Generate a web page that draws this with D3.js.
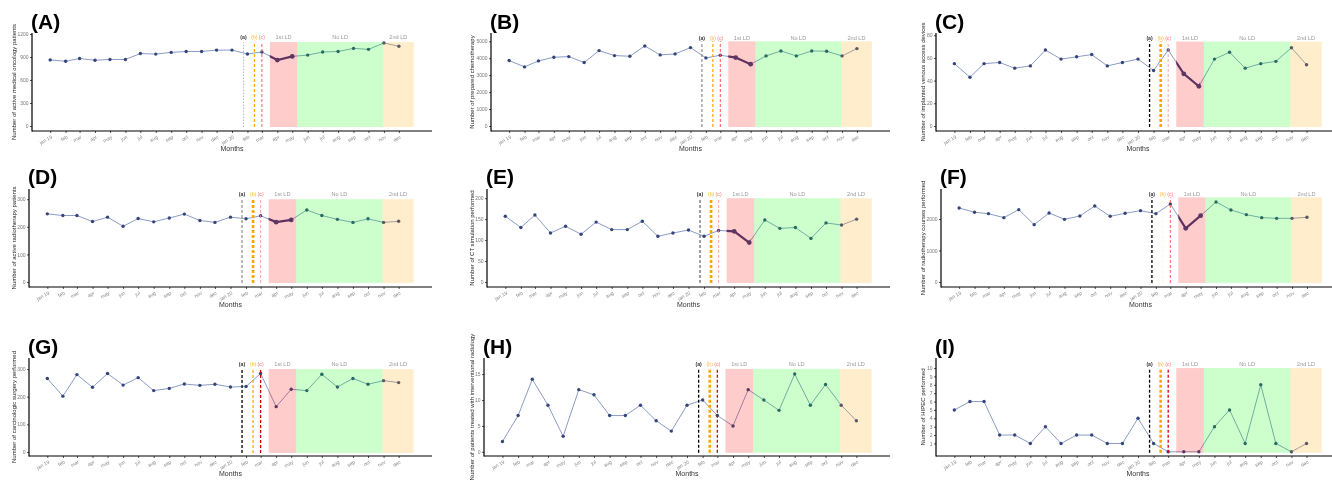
<!DOCTYPE html>
<html>
<head>
<meta charset="utf-8">
<script src="https://cdn.jsdelivr.net/npm/d3@7"></script>
<style>
body{margin:0;background:#fff}
svg{display:block;will-change:transform}
text{font-family:"Liberation Sans",Arial,sans-serif}
</style>
</head>
<body>
<svg id="chart" width="1332" height="485"></svg>
<script>
// months jan 2019 -> dec 2020
var months = ["jan 19","feb","mar","apr","may","jun","jul","aug","sep","oct","nov","dec",
              "jan 20","feb","mar","apr","may","jun","jul","aug","sep","oct","nov","dec"];

// series, one value per month
var medOnco   = [862,845,880,858,868,868,945,938,960,972,972,990,990,940,965,860,908,925,965,972,1012,1000,1082,1040];
var chemo     = [3863,3490,3843,4059,4098,3745,4451,4157,4118,4725,4196,4255,4627,4020,4176,4039,3647,4137,4431,4137,4431,4412,4137,4569];
var venous    = [55,43,55,56,51,53,67,59,61,63,53,56,59,49,67,46,35,59,65,51,55,57,69,54];
var radioPat  = [247,241,241,219,235,202,230,218,232,246,223,216,235,229,240,217,225,261,241,227,216,229,216,220];
var ctSim     = [157,130,160,117,133,114,143,125,125,145,109,117,124,109,123,121,94,148,128,130,104,141,136,150];
var radioCour = [2349,2212,2169,2042,2296,1820,2190,1989,2095,2413,2085,2180,2265,2169,2476,1704,2106,2540,2286,2138,2042,2021,2021,2053];
var surgery   = [266,202,280,234,284,242,269,222,230,246,241,245,235,237,284,164,227,222,281,235,266,245,258,251];
var interRad  = [2,7,14,9,3,12,11,7,7,9,6,4,9,10,7,5,12,10,8,15,9,13,9,6];
var hipec     = [5,6,6,2,2,1,3,1,2,2,1,1,4,1,0,0,0,3,5,1,8,1,0,1];

// y tick values
var ticksA = [0,300,600,900,1200];
var ticksB = [0,1000,2000,3000,4000,5000];
var ticksC = [0,20,40,60,80];
var ticksD = [0,100,200,300];
var ticksE = [0,50,100,150,200];
var ticksF = [0,1000,2000];
var ticksG = [0,100,200,300];
var ticksH = [0,5,10,15];
var ticksI = [1,2,3,4,5,6,7,8,9,10];

// events and lockdown periods
var eventLabels = ["(a)","(b)","(c)"];
var eventDates  = ["2020-01-24","2020-02-15","2020-03-01"];
var periodLabels = ["1st LD","No LD","2nd LD"];
var periodStarts = ["2020-03-17","2020-05-11","2020-10-30"];
var periodEnds   = ["2020-05-11","2020-10-30","2020-12-31"];

var parse = d3.timeParse("%Y-%m-%d");
var dates = months.map(function(m,i){ return new Date(2019, i, 1); });
var day = 864e5;
var xDomain = [new Date(+new Date(2019,0,1) - 36.5*day), new Date(+new Date(2020,11,31) + 36.5*day)];

var rowTop = [33,189,358], rowBot = [131,287,456], rowTitle = [29,184,354];
var colRight = [432,890,1340];
var colYLabel = [16,474,925];
var periodFill = ["red","lime","orange"];
var labelColor = ["#333","orange","#ff4d4d"];

// [color, width, dash] for (a),(b),(c)
var S = {
  grayDot:["#bbb",1,"1.5,1.5"], gray:["#777",1,"3,2"], black:["#000",1.3,"3,2"],
  or:["orange",1.2,"3,2"], orThick:["orange",2.6,"3,2"], orNone:["#ffe9c8",0.6,"3,2"],
  red:["#ff5a5a",1,"3,2"], pink:["#ff8a8a",0.8,"3,2"], dred:["#d40000",1.3,"3,2"]
};

var panels = [
  {t:"(A)", v:medOnco, ticks:ticksA, lo:-65, hi:1213, shade:1095, lab:1161, row:0, col:0, left:32, thick:true,
   ev:[S.grayDot,S.or,S.red], yl:"Number of active medical oncology patients"},
  {t:"(B)", v:chemo, ticks:ticksB, lo:-295, hi:5490, shade:5000, lab:5212, row:0, col:1, left:491, thick:true,
   ev:[S.gray,S.or,S.red], yl:"Number of prepared chemotherapy"},
  {t:"(C)", v:venous, ticks:ticksC, lo:-4.4, hi:82, shade:74.4, lab:77.6, row:0, col:2, left:936, thick:true,
   ev:[S.black,S.orThick,S.pink], yl:"Number of implanted venous access devices"},
  {t:"(D)", v:radioPat, ticks:ticksD, lo:-18, hi:337, shade:300, lab:319, row:1, col:0, left:29, thick:true,
   ev:[S.gray,S.orThick,S.pink], yl:"Number of active radiotherapy patients"},
  {t:"(E)", v:ctSim, ticks:ticksE, lo:-12, hi:222, shade:200, lab:210, row:1, col:1, left:487, thick:true,
   ev:[["#444",1,"3,2"],S.orThick,S.pink], yl:"Number of CT simulation performed"},
  {t:"(F)", v:radioCour, ticks:ticksF, lo:-159, hi:2952, shade:2689, lab:2794, row:1, col:2, left:941, thick:true,
   ev:[S.black,S.orNone,S.red], yl:"Number of radiotherapy courses performed"},
  {t:"(G)", v:surgery, ticks:ticksG, lo:-14.5, hi:340, shade:300, lab:318, row:2, col:0, left:29, thick:false,
   ev:[S.black,S.or,S.dred], yl:"Number of carcinologic surgery performed"},
  {t:"(H)", v:interRad, ticks:ticksH, lo:-0.8, hi:18.1, shade:16, lab:17, row:2, col:1, left:484, thick:false,
   ev:[S.black,S.orThick,S.dred], yl:"Number of patients treated with interventional radiology"},
  {t:"(I)", v:hipec, ticks:ticksI, lo:-0.5, hi:11.2, shade:10, lab:10.5, row:2, col:2, left:936, thick:false,
   ev:[S.black,S.orThick,S.dred], yl:"Number of HIPEC performed"}
];

var svg = d3.select("#chart");

panels.forEach(function(p, pi){
  var top = rowTop[p.row], bot = rowBot[p.row];
  var x = d3.scaleTime().domain(xDomain).range([p.left, colRight[p.col]]);
  var y = d3.scaleLinear().domain([p.lo, p.hi]).range([bot, top]);
  var g = svg.append("g");

  // series line
  var line = d3.line().x(function(d,i){ return x(dates[i]); }).y(function(d){ return y(d); });
  g.append("path").datum(p.v).attr("d", line)
    .attr("fill","none").attr("stroke","#8c9bc6").attr("stroke-width",1);

  var ld1a = x(parse(periodStarts[0])), ld1b = x(dates[16]);
  if(p.thick){
    var cid = "clip" + pi;
    g.append("clipPath").attr("id",cid).append("rect")
      .attr("x",ld1a).attr("y",top).attr("width",ld1b-ld1a+1).attr("height",bot-top);
    g.append("path").datum(p.v).attr("d", line).attr("clip-path","url(#"+cid+")")
      .attr("fill","none").attr("stroke","#3a3f78").attr("stroke-width",2.2);
  }

  g.selectAll("circle").data(p.v).enter().append("circle")
    .attr("cx", function(d,i){ return x(dates[i]); })
    .attr("cy", function(d){ return y(d); })
    .attr("r", function(d,i){ return (p.thick && (i==15 || i==16)) ? 2.4 : 1.7; })
    .attr("fill","#34457a");

  // event lines
  eventDates.forEach(function(ed,k){
    var st = p.ev[k], ex = x(parse(ed));
    g.append("line").attr("x1",ex).attr("x2",ex).attr("y1",y(0)+1).attr("y2",y(p.shade))
      .attr("stroke",st[0]).attr("stroke-width",st[1]).attr("stroke-dasharray",st[2]);
    g.append("text").attr("x",ex).attr("y",y(p.lab)+2).attr("text-anchor","middle")
      .attr("font-size",5.2).attr("font-weight",k==0?"bold":"normal")
      .attr("fill",labelColor[k]).attr("opacity",k==0?1:0.8).text(eventLabels[k]);
  });

  // lockdown periods drawn over the series
  periodStarts.forEach(function(ps,k){
    var x0 = x(parse(ps)), x1 = x(parse(periodEnds[k]));
    g.append("rect").attr("x",x0).attr("width",x1-x0)
      .attr("y",y(p.shade)).attr("height",y(0)-y(p.shade)+1)
      .attr("fill",periodFill[k]).attr("opacity",0.2);
    g.append("text").attr("x",(x0+x1)/2).attr("y",y(p.lab)+2).attr("text-anchor","middle")
      .attr("font-size",5.6).attr("fill","#999").text(periodLabels[k]);
  });

  // axes
  var ya = g.append("g").attr("transform","translate("+p.left+",0)")
    .call(d3.axisLeft(y).tickValues(p.ticks).tickSize(2).tickPadding(1.5).tickFormat(d3.format("d")));
  ya.select(".domain").remove();
  ya.selectAll("text").attr("font-size",5).attr("fill","#777").attr("font-family",null);
  ya.selectAll("line").attr("stroke","#555");
  g.append("line").attr("x1",p.left).attr("x2",p.left).attr("y1",top).attr("y2",bot+0.6)
    .attr("stroke","#000").attr("stroke-width",1.2);

  var xa = g.append("g").attr("transform","translate(0,"+bot+")")
    .call(d3.axisBottom(x).tickValues(dates).tickSize(2).tickFormat(function(d,i){ return months[i]; }));
  xa.select(".domain").remove();
  xa.selectAll("line").attr("stroke","#555");
  xa.selectAll("text").attr("font-size",5).attr("fill","#888").attr("font-family",null)
    .attr("text-anchor","end").attr("dy",0).attr("y",7).attr("x",2)
    .attr("transform","rotate(-30,2,7)");
  g.append("line").attr("x1",p.left).attr("x2",colRight[p.col]).attr("y1",bot).attr("y2",bot)
    .attr("stroke","#000").attr("stroke-width",1.2);

  g.append("text").attr("x",(p.left+colRight[p.col])/2).attr("y",bot+19.5)
    .attr("text-anchor","middle").attr("font-size",7).attr("fill","#333").text("Months");

  g.append("text").attr("transform","translate("+colYLabel[p.col]+","+((top+bot)/2)+") rotate(-90)")
    .attr("text-anchor","middle").attr("font-size",6).attr("fill","#222").text(p.yl);

  g.append("text").attr("x",p.left-1).attr("y",rowTitle[p.row])
    .attr("font-size",21).attr("font-weight","bold").attr("fill","#000").text(p.t);
});
</script>
</body>
</html>
